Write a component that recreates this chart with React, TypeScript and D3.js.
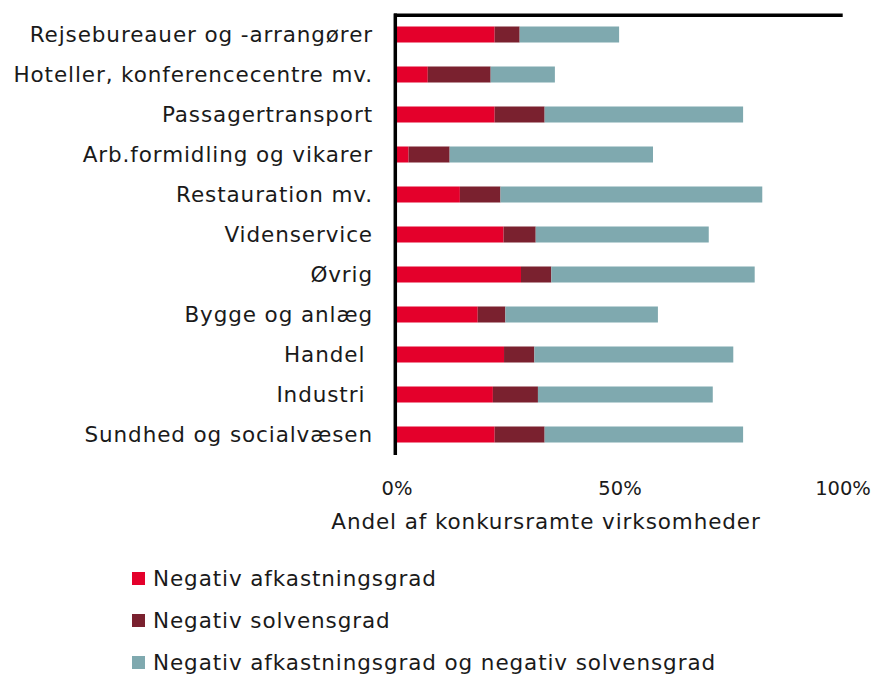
import React from "react";
import * as d3 from "d3";

const categories = [
  "Rejsebureauer og -arrangører",
  "Hoteller, konferencecentre mv.",
  "Passagertransport",
  "Arb.formidling og vikarer",
  "Restauration mv.",
  "Videnservice",
  "Øvrig",
  "Bygge og anlæg",
  "Handel ",
  "Industri ",
  "Sundhed og socialvæsen",
];

const negAfkast = [21.9, 6.9, 21.9, 2.6, 14.1, 23.9, 27.8, 18.1, 24.0, 21.5, 21.9];
const negSolvens = [5.6, 14.1, 11.2, 9.2, 9.1, 7.2, 6.8, 6.2, 6.8, 10.1, 11.2];
const begge = [22.3, 14.4, 44.5, 45.6, 58.7, 38.8, 45.6, 34.2, 44.6, 39.2, 44.5];

const seriesNames = [
  "Negativ afkastningsgrad",
  "Negativ solvensgrad",
  "Negativ afkastningsgrad og negativ solvensgrad",
];
const seriesColors = ["#E4002B", "#7A212F", "#7FA9AF"];
const xTicks = [0, 50, 100];
const xTitle = "Andel af konkursramte virksomheder";

const W = 877;
const H = 675;
const FONT = "'DejaVu Sans', sans-serif";
const FS = 21.5;
const LS = 0.9;

export default function App() {
  const x = d3.scaleLinear().domain([0, 100]).range([397, 843]);
  const y = d3
    .scaleBand<string>()
    .domain(categories)
    .range([14.5, 454.5])
    .paddingInner(0.6)
    .paddingOuter(0.3);

  const rows = categories.map((c, i) => ({
    cat: c,
    a: negAfkast[i],
    s: negSolvens[i],
    b: begge[i],
  }));
  const stack = d3.stack<any>().keys(["a", "s", "b"]);
  const stacked = stack(rows);

  return (
    <svg
      width={W}
      height={H}
      style={{ position: "absolute", left: 0, top: 0, background: "#fff" }}
      fontFamily={FONT}
    >
      <rect x={0} y={0} width={W} height={H} fill="#fff" />
      {stacked.map((layer, si) => (
        <g key={si} fill={seriesColors[si]}>
          {layer.map((d, i) => (
            <rect
              key={i}
              x={x(d[0])}
              y={y(categories[i])}
              width={x(d[1]) - x(d[0])}
              height={y.bandwidth()}
            />
          ))}
        </g>
      ))}
      {/* top border line */}
      <line x1={394} x2={842.7} y1={15.3} y2={15.3} stroke="#000" strokeWidth={3.5} />
      {/* left axis line */}
      <line x1={395.3} x2={395.3} y1={13.5} y2={455} stroke="#000" strokeWidth={3.5} />
      {/* category labels */}
      {categories.map((c) => (
        <text
          key={c}
          x={373}
          y={(y(c) as number) + y.bandwidth() / 2}
          textAnchor="end"
          dominantBaseline="central"
          fontSize={FS}
          letterSpacing={LS}
          fill="#1a1a1a"
          style={{ whiteSpace: "pre" }}
        >
          {c}
        </text>
      ))}
      {/* x tick labels */}
      {xTicks.map((t) => (
        <text
          key={t}
          x={x(t)}
          y={488}
          textAnchor="middle"
          dominantBaseline="central"
          fontSize={19.5}
          fill="#1a1a1a"
        >
          {t + "%"}
        </text>
      ))}
      <text
        x={546}
        y={521}
        textAnchor="middle"
        dominantBaseline="central"
        fontSize={FS}
        letterSpacing={LS}
        fill="#1a1a1a"
      >
        {xTitle}
      </text>
      {/* legend */}
      {seriesNames.map((n, i) => {
        const cy = 578.5 + i * 42;
        return (
          <g key={n}>
            <rect x={132} y={cy - 6.5} width={13} height={13} fill={seriesColors[i]} />
            <text
              x={153}
              y={cy}
              dominantBaseline="central"
              fontSize={FS}
              letterSpacing={LS}
              fill="#1a1a1a"
            >
              {n}
            </text>
          </g>
        );
      })}
    </svg>
  );
}
